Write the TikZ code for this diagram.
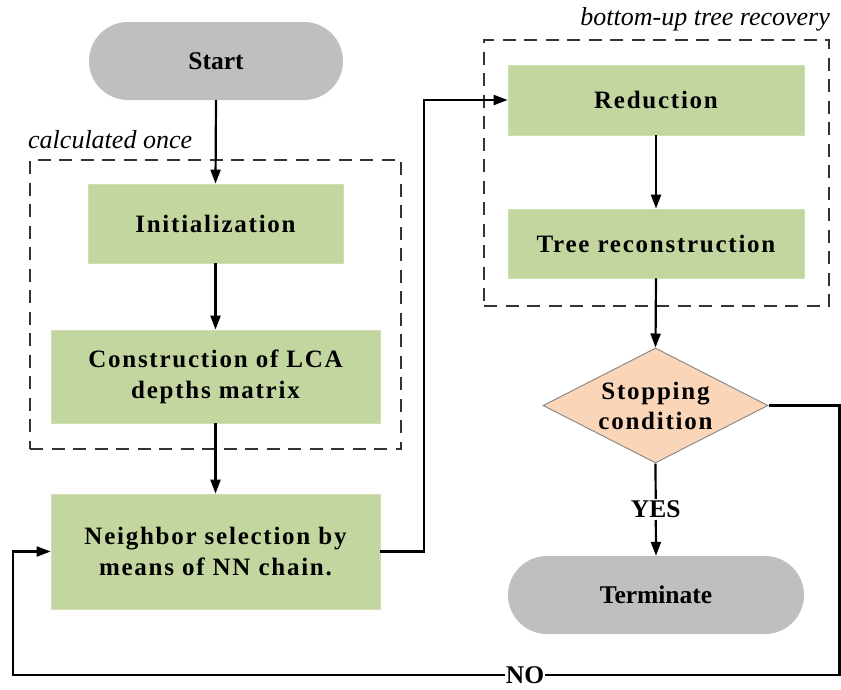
\documentclass[tikz,border=0pt]{standalone}
\usepackage{fontspec}
\setmainfont{Liberation Serif}
\newfontfamily\spacedfont[LetterSpace=7]{Liberation Serif}
\usetikzlibrary{arrows.meta,shapes.geometric}

\definecolor{boxgreen}{HTML}{C4D6A0}
\definecolor{termgray}{HTML}{BFBFBF}
\definecolor{decpeach}{HTML}{FAD5B8}
\definecolor{decedge}{HTML}{8C8C8C}

\tikzset{
  procbox/.style={rectangle, fill=boxgreen, draw=boxgreen!80!white, line width=0.8pt,
    align=center, inner sep=0pt,
    font=\spacedfont\bfseries\fontsize{25}{31}\selectfont},
  termbox/.style={rectangle, fill=termgray, rounded corners=39pt, align=center,
    inner sep=0pt, minimum width=296pt, minimum height=78pt,
    font=\bfseries\fontsize{25.5}{31}\selectfont},
  decbox/.style={diamond, fill=decpeach, draw=decedge, line width=1pt, inner sep=0pt},
  grpbox/.style={rectangle, draw=black!80, dash pattern=on 13pt off 8.5pt,
    line width=1.8pt, inner sep=0pt},
  grplabel/.style={font=\itshape\fontsize{26}{31}\selectfont, inner sep=0pt},
  flow/.style={line width=2.2pt, -{Triangle[length=14pt,width=10pt]}},
  branch/.style={fill=white, inner sep=2pt, font=\bfseries\fontsize{25.5}{31}\selectfont},
}

\begin{document}
\begin{tikzpicture}[x=1pt,y=-1pt]
  \useasboundingbox (0,0) rectangle (841,689);

  % group frames and their captions
  \node[grpbox, minimum width=371pt, minimum height=289pt] (once) at (215.5,304.5) {};
  \node[grplabel, anchor=base west] (oncelbl) at (28,148) {calculated once};
  \node[grpbox, minimum width=345pt, minimum height=266pt] (recov) at (656.5,173) {};
  \node[grplabel, anchor=base east] (recovlbl) at (830,25) {bottom-up tree recovery};

  % left column
  \node[termbox, minimum width=254pt] (start) at (216,61) {Start};
  \node[procbox, minimum width=255pt, minimum height=79pt] (init) at (215.5,223.5) {Initialization};
  \node[procbox, minimum width=329pt, minimum height=93pt] (lca) at (215.5,376.5)
    {Construction of LCA\\depths matrix};
  \node[procbox, minimum width=329pt, minimum height=115pt] (nn) at (215.5,551.5)
    {Neighbor selection by\\means of NN chain.};

  % right column
  \node[procbox, minimum width=296pt, minimum height=70pt] (red) at (656,100) {Reduction};
  \node[procbox, minimum width=296pt, minimum height=69pt] (tree) at (656,243.5) {Tree reconstruction};
  \node[decbox, minimum width=225pt, minimum height=115pt,
    label={[align=center, font=\spacedfont\bfseries\fontsize{25}{30}\selectfont]center:Stopping\\condition}]
    (stop) at (655.5,405.5) {};
  \node[termbox] (term) at (656,595) {Terminate};

  % route points of the feedback loop
  \coordinate (up) at (424,551.5);
  \coordinate (r1) at (839.5,405.5);
  \coordinate (r2) at (839.5,675);
  \coordinate (l1) at (13,675);

  % connectors
  \draw[flow] (start.south) -- (init.north);
  \draw[flow] (init.south) -- (lca.north);
  \draw[flow] (lca.south) -- (nn.north);
  \draw[flow] (nn.east) -- (up) |- (red.west);
  \draw[flow] (red.south) -- (tree.north);
  \draw[flow] (tree.south) -- (stop.north);
  \draw[flow] (stop.south) -- node[branch] (yes) {YES} (term.north);
  \draw[flow] (stop.east) -- (r1) -- (r2) -- (l1) |- (nn.west);
  \node[branch, inner sep=1pt] (no) at (525,675) {NO};
\end{tikzpicture}
\end{document}
